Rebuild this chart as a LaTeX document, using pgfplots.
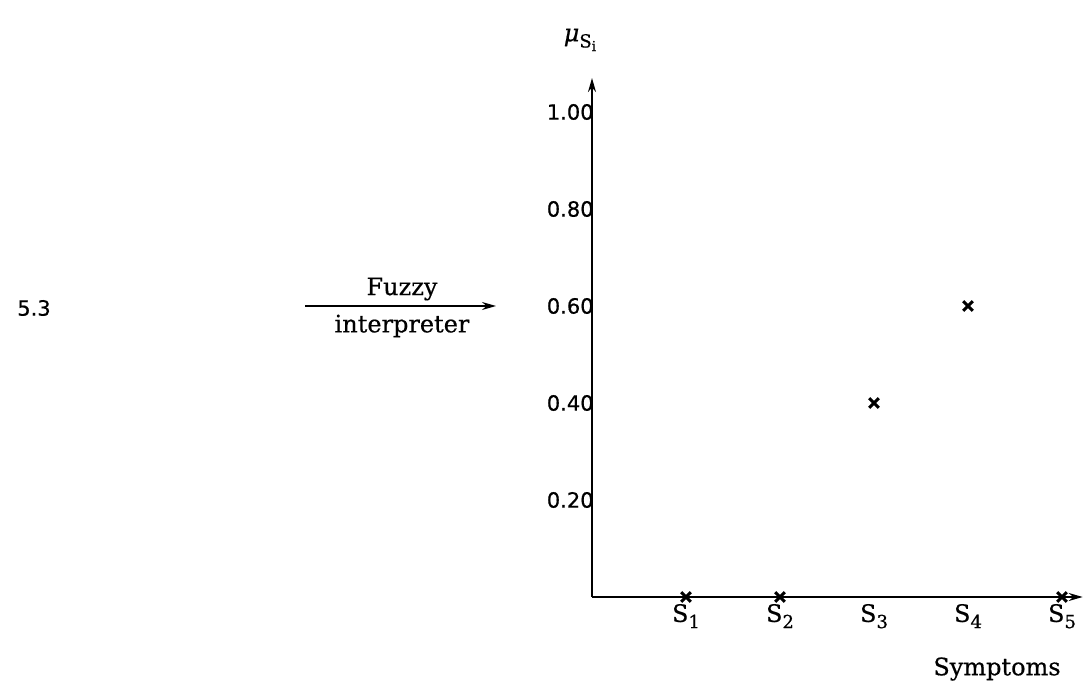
\documentclass[border=0pt]{standalone}
\usepackage{fontspec}
\setmainfont[FakeBold=0.6,AutoFakeBold=0.6]{DejaVu Serif}
\newfontfamily\tickfont[FakeBold=0.6]{DejaVu Sans}
\usepackage{pgfplots}
\pgfplotsset{compat=1.18}
\usetikzlibrary{arrows.meta}
\begin{document}
\begin{tikzpicture}
\path[use as bounding box] (0,0) rectangle (543.5pt,343pt);
\begin{axis}[
  at={(296pt,44.5pt)}, anchor=origin,
  x=47pt, y=242.5pt,
  xmin=0, xmax=5.22, ymin=0, ymax=1.07,
  axis lines=left,
  axis line style={line width=0.9pt, -{Stealth[length=7pt,width=4pt]}},
  clip=false,
  major tick length=0pt,
  xtick={1,2,3,4,5},
  xticklabels={S\raisebox{-0.5ex}{\small 1},S\raisebox{-0.5ex}{\small 2},S\raisebox{-0.5ex}{\small 3},S\raisebox{-0.5ex}{\small 4},S\raisebox{-0.5ex}{\small 5}},
  xticklabel style={font=\fontsize{12}{14}\selectfont, yshift=0pt},
  ytick={0.2,0.4,0.6,0.8,1.0},
  yticklabels={0.20,0.40,0.60,0.80,1.00},
  yticklabel style={font=\tickfont\fontsize{10.5}{12}\selectfont, anchor=east, inner sep=0pt, xshift=1pt},
]
\addplot[only marks, mark=x, mark size=3.4pt, line width=1.5pt, black] coordinates {
 (1,0) (2,0) (3,0.4) (4,0.6) (5,0)
};
\end{axis}
\node[font=\itshape\fontsize{12}{14}\selectfont] at (290pt,323pt) {μ\raisebox{-0.5ex}{\small\upshape S\raisebox{-0.4ex}{\scriptsize i}}};
\node[font=\tickfont\fontsize{10.5}{12}\selectfont] at (17pt,189pt) {5.3};
\draw[line width=0.8pt, -{Stealth[length=7pt,width=4pt]}] (152.5pt,190pt) -- (248pt,190pt);
\node[font=\fontsize{12}{14}\selectfont] at (201pt,198.5pt) {Fuzzy};
\node[font=\fontsize{12}{14}\selectfont] at (201pt,180pt) {interpreter};
\node[font=\fontsize{12}{14}\selectfont] at (498.5pt,8.5pt) {Symptoms};
\end{tikzpicture}
\end{document}
